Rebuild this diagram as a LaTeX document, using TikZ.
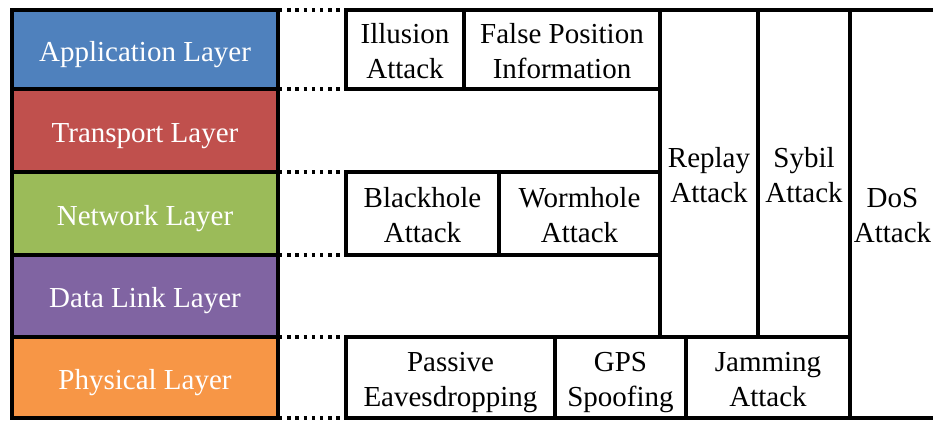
\documentclass[tikz,border=0pt]{standalone}
\usepackage{fontspec}
\setmainfont{Liberation Serif}
\definecolor{appblue}{HTML}{4F81BD}
\definecolor{transred}{HTML}{C0504D}
\definecolor{netgreen}{HTML}{9BBB59}
\definecolor{linkpurple}{HTML}{8064A2}
\definecolor{phyorange}{HTML}{F79646}
\tikzset{
  cell/.style={draw=black, line width=3.2pt, rectangle, inner sep=0pt, outer sep=0pt,
    align=center, font=\fontsize{29}{35}\selectfont},
  % single-line text: caps centred in the box
  layerbox/.style={cell, text=white, text height=23pt, text depth=0pt},
  % two-line text: caps of both lines centred in the box
  attackbox/.style={cell, fill=white, text=black, text height=57pt, text depth=0pt},
  dotlink/.style={draw=black, line width=3.4pt, dash pattern=on 3.4pt off 4.8pt, dash phase=-1pt},
}
\begin{document}
\begin{tikzpicture}[x=1pt, y=-1pt]
\clip (0,0) rectangle (933,421);
\fill[white] (0,0) rectangle (933,421);

% protocol stack
\node[layerbox, fill=appblue,    minimum width=266pt, minimum height=79pt] (app)   at (145,49.5)  {Application Layer};
\node[layerbox, fill=transred,   minimum width=266pt, minimum height=83pt] (trans) at (145,130.5) {Transport Layer};
\node[layerbox, fill=netgreen,   minimum width=266pt, minimum height=83pt] (net)   at (145,213.5) {Network Layer};
\node[layerbox, fill=linkpurple, minimum width=266pt, minimum height=82pt] (link)  at (145,296)   {Data Link Layer};
\node[layerbox, fill=phyorange,  minimum width=266pt, minimum height=81pt] (phy)   at (145,377.5) {Physical Layer};

% attacks spanning several layers
\node[attackbox, minimum width=98pt, minimum height=327pt] (rep) at (709,173.5) {Replay\\Attack};
\node[attackbox, minimum width=92pt, minimum height=327pt] (syb) at (804,173.5) {Sybil\\Attack};
\node[attackbox, minimum width=85pt, minimum height=408pt] (dos) at (892.5,214) {DoS\\Attack};

% application layer attacks
\node[attackbox, minimum width=118pt, minimum height=79pt] (ill) at (405,49.5) {Illusion\\Attack};
\node[attackbox, minimum width=196pt, minimum height=79pt] (fpi) at (562,49.5) {False Position\\Information};

% network layer attacks
\node[attackbox, minimum width=153pt, minimum height=83pt] (blk) at (422.5,213.5) {Blackhole\\Attack};
\node[attackbox, minimum width=161pt, minimum height=83pt] (wrm) at (579.5,213.5) {Wormhole\\Attack};

% physical layer attacks
\node[attackbox, minimum width=209pt, minimum height=81pt] (pas) at (450.5,377.5) {Passive\\Eavesdropping};
\node[attackbox, minimum width=131pt, minimum height=81pt] (gps) at (620.5,377.5) {GPS\\Spoofing};
\node[attackbox, minimum width=164pt, minimum height=81pt] (jam) at (768,377.5) {Jamming\\Attack};

% dotted links from layers to their attacks
\draw[dotlink] (app.north east) -- (ill.north west);
\draw[dotlink] (app.south east) -- (ill.south west);
\draw[dotlink] (net.north east) -- (blk.north west);
\draw[dotlink] (net.south east) -- (blk.south west);
\draw[dotlink] (phy.north east) -- (pas.north west);
\draw[dotlink] (phy.south east) -- (pas.south west);
\end{tikzpicture}
\end{document}
